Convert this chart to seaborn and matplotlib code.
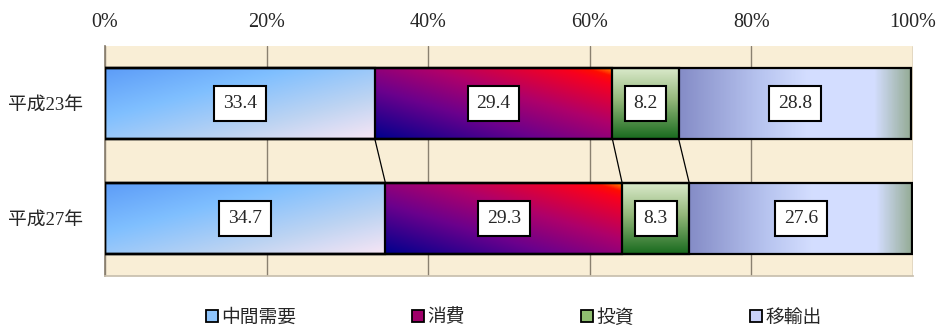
import numpy as np
import pandas as pd
import matplotlib
matplotlib.use("Agg")
import matplotlib.pyplot as plt
import seaborn as sns
from matplotlib.lines import Line2D
from matplotlib.colors import LinearSegmentedColormap

# ---- data ----
years = ["平成23年", "平成27年"]
categories = ["中間需要", "消費", "投資", "移輸出"]
chukan = [33.4, 34.7]
shohi = [29.4, 29.3]
toshi = [8.2, 8.3]
iyushutsu = [28.8, 27.6]
xticks = [0, 20, 40, 60, 80, 100]
xtick_labels = ["0%", "20%", "40%", "60%", "80%", "100%"]

series = [chukan, shohi, toshi, iyushutsu]

sns.set_theme(style="white")
plt.rcParams['font.family'] = ['Liberation Serif', 'Noto Sans CJK JP']

fig = plt.figure(figsize=(9.38, 3.31), dpi=100)
ax = fig.add_axes([105/938, 1-276/331, (913-105)/938, (276-46)/331])
ax.set_facecolor('#f9eed6')

vals = np.array(series)
cum = np.cumsum(vals, axis=0)
lefts = cum - vals

bar_h = 0.62
patch_groups = {}
for i in range(3, -1, -1):
    n0 = len(ax.patches)
    df = pd.DataFrame({"year": years, "cum": cum[i]})
    sns.barplot(data=df, x="cum", y="year", orient="h", color="white",
                width=bar_h, ax=ax, edgecolor="black", linewidth=1.6, zorder=3)
    ps = sorted(ax.patches[n0:], key=lambda p: p.get_y())
    for p in ps:
        p.set_facecolor('none')
    patch_groups[i] = ps

# gradient definitions (u: left->right, v: top->bottom)
grads = [
    ([(0.0, (0.36, 0.61, 0.97)), (0.35, (0.50, 0.75, 1.0)), (0.7, (0.74, 0.83, 0.95)), (1.0, (0.97, 0.90, 0.96))],
     lambda u, v: (u + v) / 2),
    ([(0.0, (0.0, 0.0, 0.55)), (0.35, (0.42, 0.0, 0.55)), (0.6, (0.68, 0.0, 0.42)), (0.88, (0.97, 0.0, 0.12)),
      (0.94, (1.0, 0.05, 0.0)), (1.0, (1.0, 0.6, 0.0))],
     lambda u, v: (u + (1 - v)) / 2),
    ([(0.0, (0.86, 0.92, 0.80)), (0.45, (0.58, 0.72, 0.48)), (1.0, (0.10, 0.42, 0.12))],
     lambda u, v: v + 0 * u),
    ([(0.0, (0.52, 0.55, 0.78)), (0.35, (0.72, 0.77, 0.94)), (0.55, (0.83, 0.87, 1.0)), (0.84, (0.83, 0.87, 1.0)),
      (1.0, (0.58, 0.67, 0.58))],
     lambda u, v: u + 0 * v),
]

u = np.linspace(0, 1, 300)[None, :]
v = np.linspace(0, 1, 80)[:, None]
for i, (stops, tf) in enumerate(grads):
    cmap = LinearSegmentedColormap.from_list(f"g{i}", stops)
    img = cmap(tf(u, v))
    for j, p in enumerate(patch_groups[i]):
        y0 = p.get_y()
        y1 = y0 + p.get_height()
        ax.imshow(img, extent=[lefts[i][j], cum[i][j], y1, y0], origin='upper',
                  aspect='auto', zorder=2, interpolation='bilinear')

# series connector lines
for i in range(3):
    ax.plot([cum[i][0], cum[i][1]], [0 + bar_h / 2, 1 - bar_h / 2],
            color='black', lw=0.9, zorder=2.5)

# data labels
for i in range(4):
    for j in range(2):
        ax.text((lefts[i][j] + cum[i][j]) / 2, j, f"{vals[i][j]:.1f}",
                ha='center', va='center', fontsize=14, zorder=6,
                bbox=dict(boxstyle='square,pad=0.45', fc='white', ec='black', lw=1.5))

ax.set_xlim(0, 100)
ax.set_ylim(1.5, -0.5)
ax.xaxis.tick_top()
ax.set_xticks(xticks)
ax.set_xticklabels(xtick_labels, fontsize=14.5)
ax.tick_params(axis='x', length=0, pad=10)
ax.tick_params(axis='y', length=0, pad=16, labelsize=13.5)
ax.set_xlabel('')
ax.set_ylabel('')
ax.grid(axis='x', color='#8a8070', lw=1.0)
ax.grid(axis='y', visible=False)
ax.set_axisbelow(True)
for s in ['top', 'right']:
    ax.spines[s].set_visible(False)
ax.spines['left'].set_color('#8a8070')
ax.spines['bottom'].set_color('#c8bfae')

leg_colors = ['#8ec4fb', '#a0006a', '#8fbf70', '#c8d0f8']
handles = [Line2D([], [], marker='s', ls='none', markersize=8, markerfacecolor=c,
                  markeredgecolor='black', mew=1.3) for c in leg_colors]
fig.legend(handles, categories, loc='center', bbox_to_anchor=(0.547, 0.04), ncol=4,
           frameon=False, fontsize=13.5, handletextpad=0.1, columnspacing=6.1,
           handlelength=0.8, borderpad=0.1)

fig.savefig('out.png', dpi=100)
